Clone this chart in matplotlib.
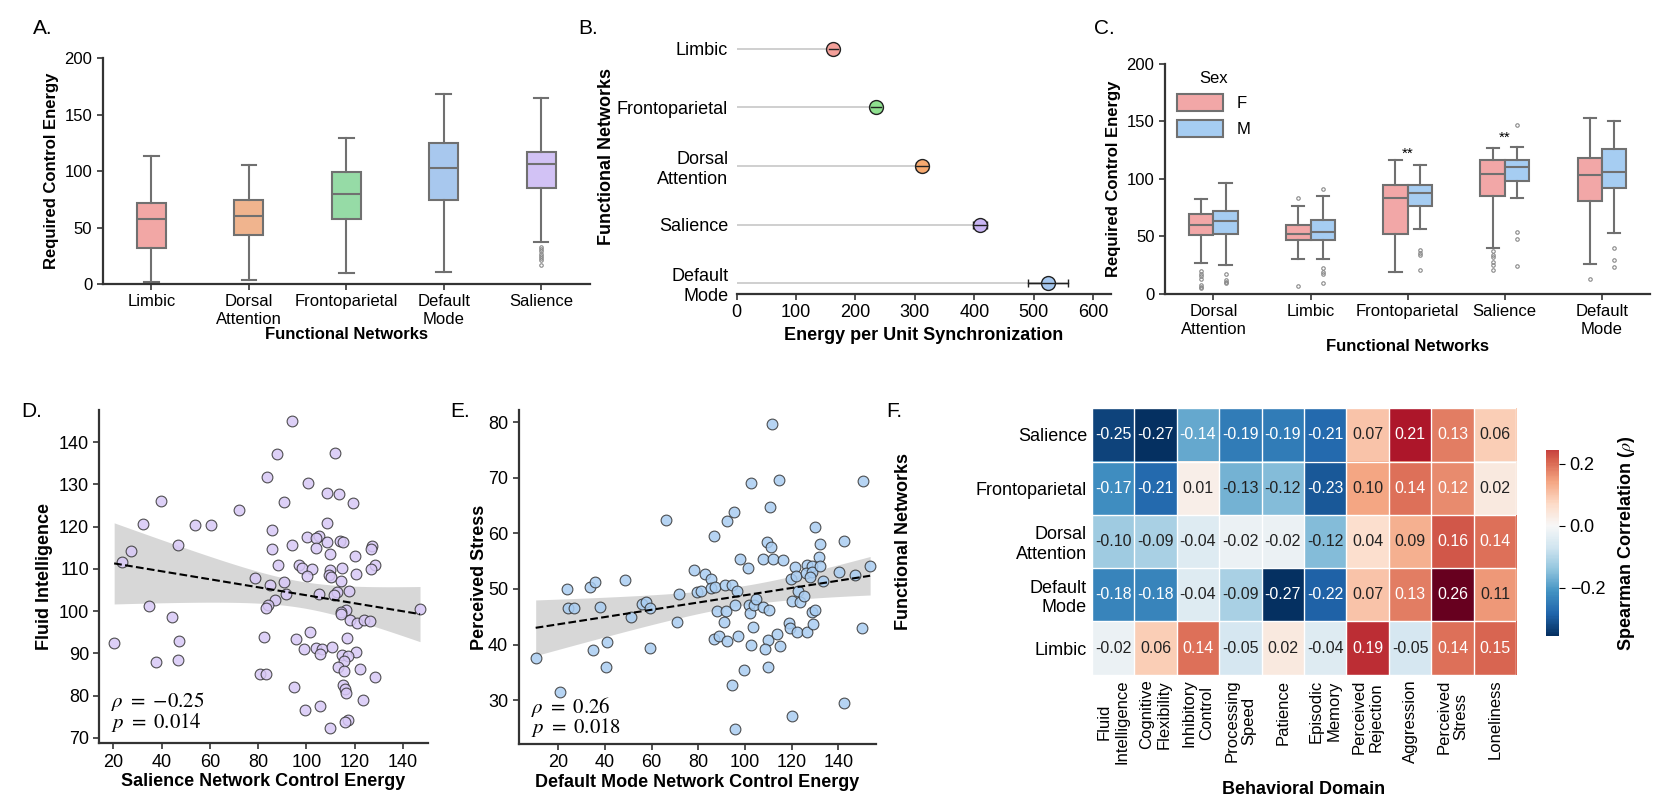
import numpy as np
import matplotlib
matplotlib.use("Agg")
import matplotlib.pyplot as plt
from matplotlib import font_manager
from matplotlib.colors import Normalize, ListedColormap
from matplotlib.patches import Patch
import matplotlib.cm as cm

# ---- data ----
# A: control energy per network (box stats)
a_networks = ['Limbic', 'Dorsal\nAttention', 'Frontoparietal', 'Default\nMode', 'Salience']
a_whislo = [2, 4, 10, 11, 37]
a_q1 = [32, 43, 58, 74, 85]
a_med = [58, 60, 80, 103, 106]
a_q3 = [72, 74, 99, 125, 117]
a_whishi = [113, 105, 129, 168, 165]
a_fliers = [[], [], [], [], [33, 31, 29, 27, 25, 23, 21, 17]]
a_colors = ['#f2a7a5', '#f0b48e', '#96dba6', '#a8c8ee', '#d2c2f5']

# B: energy per unit synchronization
b_networks = ['Limbic', 'Frontoparietal', 'Dorsal\nAttention', 'Salience', 'Default\nMode']
b_mean = [163, 235, 312, 410, 524]
b_err = [8, 8, 10, 12, 34]
b_colors = ['#f4a09a', '#8fe08f', '#f7aa70', '#c9b5f4', '#a6c8f0']

# C: control energy by sex
c_networks = ['Dorsal\nAttention', 'Limbic', 'Frontoparietal', 'Salience', 'Default\nMode']
f_whislo = [27, 30, 19, 40, 26]
f_q1 = [51, 47, 52, 85, 81]
f_med = [60, 52, 83, 104, 103]
f_q3 = [69, 60, 95, 116, 118]
f_whishi = [82, 76, 116, 127, 153]
f_fliers = [[20, 17, 15, 13, 8, 6, 5], [83, 7], [], [37, 34, 32, 28, 25, 21], [13]]
m_whislo = [25, 30, 56, 83, 53]
m_q1 = [52, 47, 76, 98, 92]
m_med = [63, 54, 88, 110, 106]
m_q3 = [72, 64, 95, 116, 126]
m_whishi = [96, 85, 112, 128, 150]
m_fliers = [[17, 12, 10, 9], [91, 22, 19, 17, 9], [38, 35, 34, 21], [147, 54, 48, 24], [40, 29, 23]]
c_sig = [('**', 2, 122), ('**', 3, 136)]

# D: salience energy vs fluid intelligence
d_x = [93.9, 87.6, 111.9, 83.6, 100.6, 108.4, 113.4, 39.9, 90.5, 119.2, 72.0, 32.4, 53.9,
       60.4, 108.3, 20.4, 85.7, 100.3, 105.2, 104.1, 93.9, 46.8, 27.3, 85.9, 108.6, 104.1,
       113.7, 115.2, 109.8, 120.1, 127.3, 126.8, 23.6, 88.4, 97.1, 98.1, 102.2, 114.9, 109.7,
       128.4, 126.8, 120.4, 100.1, 109.4, 110.1, 78.8, 90.8, 114.1, 84.8, 117.7, 91.7, 105.2,
       112.8, 111.3, 86.8, 83.9, 83.2, 34.9, 44.3, 116.3, 114.5, 114.2, 147.0, 118.2, 120.8,
       123.9, 126.1, 47.3, 82.6, 95.6, 101.4, 116.6, 98.8, 104.1, 106.6, 105.8, 110.6, 120.4,
       114.9, 117.2, 115.7, 37.7, 46.9, 113.2, 115.6, 122.3, 128.3, 80.6, 83.4, 94.9, 115.2,
       116.0, 116.3, 123.4, 99.2, 105.5, 117.1, 116.1, 109.7]
d_y = [145.0, 137.2, 137.4, 131.8, 130.3, 128.0, 127.7, 126.0, 125.7, 125.6, 123.9, 120.5, 120.3,
       120.4, 120.8, 92.5, 119.1, 117.6, 117.8, 117.2, 115.7, 115.6, 114.2, 114.6, 116.3, 114.9,
       116.6, 116.4, 113.6, 113.0, 115.4, 114.7, 111.5, 110.9, 110.8, 110.2, 110.0, 110.3, 109.6,
       110.9, 110.0, 108.8, 108.2, 108.5, 108.1, 107.9, 106.9, 107.1, 106.1, 104.7, 104.0, 104.1,
       104.4, 103.7, 102.5, 101.5, 100.6, 101.2, 98.7, 100.3, 99.7, 99.2, 100.5, 97.8, 97.2,
       97.9, 97.7, 92.8, 93.9, 93.3, 95.1, 93.7, 90.9, 91.3, 90.9, 89.9, 91.5, 90.4,
       89.5, 89.4, 88.2, 88.0, 88.5, 86.7, 85.8, 86.3, 84.5, 85.0, 85.1, 82.1, 82.6,
       81.5, 80.6, 79.0, 76.5, 77.5, 74.3, 73.7, 72.3]

# E: default mode energy vs perceived stress
e_x = [10.3, 20.7, 23.7, 24.1, 26.9, 33.7, 35.6, 34.9, 37.9, 40.9, 40.6, 48.7, 51.1, 55.7,
       57.7, 59.4, 59.1, 66.0, 71.0, 71.9, 78.1, 79.6, 81.3, 82.9, 85.4, 85.4, 87.3, 86.6,
       86.9, 88.9, 88.1, 91.6, 91.7, 91.0, 92.3, 92.3, 95.4, 94.6, 96.6, 95.9, 96.9, 94.3,
       95.6, 99.7, 97.9, 101.1, 102.6, 101.9, 102.1, 103.7, 104.6, 103.6, 102.6, 107.6, 107.6,
       109.3, 111.0, 111.9, 110.7, 111.4, 114.4, 110.3, 109.7, 108.7, 109.7, 113.7, 115.1,
       116.1, 121.3, 119.6, 122.0, 120.1, 122.9, 123.4, 125.3, 118.7, 119.4, 122.4, 126.7,
       120.1, 126.6, 128.7, 126.0, 128.7, 127.9, 131.6, 132.1, 130.1, 132.0, 133.3, 128.9,
       129.9, 129.3, 140.3, 142.4, 142.4, 147.0, 150.0, 150.7, 153.6]
e_y = [37.6, 31.4, 50.0, 46.5, 46.5, 50.4, 51.3, 39.0, 46.7, 40.4, 36.0, 51.7, 45.0, 47.3,
       47.6, 46.5, 39.3, 62.4, 44.0, 49.1, 53.4, 49.4, 49.6, 52.7, 51.8, 50.1, 50.4, 59.6,
       41.0, 41.5, 46.0, 50.8, 46.0, 44.1, 40.6, 62.2, 63.8, 50.7, 49.7, 47.1, 41.5, 32.7,
       24.8, 35.4, 55.3, 53.8, 69.0, 47.2, 45.6, 47.2, 48.2, 43.1, 40.0, 55.4, 46.7,
       58.5, 57.5, 55.4, 64.8, 79.7, 69.6, 46.3, 40.9, 39.2, 36.0, 41.9, 39.8,
       55.2, 54.0, 51.8, 52.4, 47.9, 49.7, 47.6, 48.7, 43.8, 43.0, 42.2, 42.3,
       27.1, 54.3, 54.2, 52.8, 53.1, 52.1, 55.7, 54.2, 61.2, 58.1, 51.5, 45.9,
       46.3, 43.7, 53.0, 58.7, 29.4, 52.5, 43.0, 69.4, 54.2]

# F: spearman correlations
f_rows = ['Salience', 'Frontoparietal', 'Dorsal\nAttention', 'Default\nMode', 'Limbic']
f_cols = ['Fluid\nIntelligence', 'Cognitive\nFlexibility', 'Inhibitory\nControl', 'Processing\nSpeed',
          'Patience', 'Episodic\nMemory', 'Perceived\nRejection', 'Aggression', 'Perceived\nStress',
          'Loneliness']
rho = np.array([
    [-0.25, -0.27, -0.14, -0.19, -0.19, -0.21, 0.07, 0.21, 0.13, 0.06],
    [-0.17, -0.21, 0.01, -0.13, -0.12, -0.23, 0.10, 0.14, 0.12, 0.02],
    [-0.10, -0.09, -0.04, -0.02, -0.02, -0.12, 0.04, 0.09, 0.16, 0.14],
    [-0.18, -0.18, -0.04, -0.09, -0.27, -0.22, 0.07, 0.13, 0.26, 0.11],
    [-0.02, 0.06, 0.14, -0.05, 0.02, -0.04, 0.19, -0.05, 0.14, 0.15],
])

# ---- style ----
names = {f.name for f in font_manager.fontManager.ttflist}
plt.rcParams['font.family'] = ['Liberation Sans', 'DejaVu Sans']
plt.rcParams['mathtext.fontset'] = 'stix'
plt.rcParams['axes.linewidth'] = 1.6
narrow = 'Liberation Sans Narrow' if 'Liberation Sans Narrow' in names else 'Liberation Sans'
EDGE = '#707070'


def clean(ax):
    ax.spines['top'].set_visible(False)
    ax.spines['right'].set_visible(False)
    ax.spines['left'].set_color('#333333')
    ax.spines['bottom'].set_color('#333333')
    ax.tick_params(labelsize=12, width=1.2, length=4, color='#333333')


def stats(lo, q1, med, q3, hi, fl):
    return [dict(whislo=a, q1=b, med=c, q3=d, whishi=e, fliers=f)
            for a, b, c, d, e, f in zip(lo, q1, med, q3, hi, fl)]


def draw_boxes(ax, st, pos, width, colors):
    bp = ax.bxp(st, positions=pos, widths=width, patch_artist=True, showfliers=True,
                boxprops=dict(edgecolor=EDGE, linewidth=1.5),
                medianprops=dict(color=EDGE, linewidth=1.5),
                whiskerprops=dict(color=EDGE, linewidth=1.5),
                capprops=dict(color=EDGE, linewidth=1.5),
                flierprops=dict(marker='o', markersize=2.5, markerfacecolor='none',
                                markeredgecolor='#888888', markeredgewidth=0.8))
    for patch, c in zip(bp['boxes'], colors):
        patch.set_facecolor(c)
    for cap in bp['caps']:
        xd = cap.get_xdata()
        mid = (xd[0] + xd[1]) / 2
        cap.set_xdata([mid - width * 0.25, mid + width * 0.25])


fig = plt.figure(figsize=(16.57, 8.07), dpi=100)

# ---- A ----
axA = fig.add_axes([0.062, 0.648, 0.294, 0.280])
draw_boxes(axA, stats(a_whislo, a_q1, a_med, a_q3, a_whishi, a_fliers),
           list(range(5)), 0.3, a_colors)
axA.set_xlim(-0.5, 4.5)
axA.set_ylim(0, 200)
axA.set_yticks([0, 50, 100, 150, 200])
axA.set_xticks(range(5))
axA.set_xticklabels(a_networks)
clean(axA)
axA.set_ylabel('Required Control Energy', fontsize=12, fontweight='bold')
axA.set_xlabel('Functional Networks', fontsize=12, fontweight='bold', labelpad=0)

# ---- B ----
axB = fig.add_axes([0.4445, 0.636, 0.226, 0.340])
yb = np.arange(len(b_networks))
axB.hlines(yb, 0, b_mean, color='#cccccc', linewidth=1.3, zorder=1)
for i in range(len(yb)):
    axB.errorbar(b_mean[i], yb[i], xerr=b_err[i], fmt='o', markersize=10,
                 markerfacecolor=b_colors[i], markeredgecolor='#222222', markeredgewidth=1.0,
                 ecolor='#222222', elinewidth=1.0, capsize=3, zorder=3)
    axB.plot([b_mean[i] - b_err[i], b_mean[i] + b_err[i]], [yb[i], yb[i]],
             color='#222222', linewidth=1.0, zorder=4)
axB.set_ylim(4.18, -0.5)
axB.set_xlim(0, 630)
axB.set_xticks([0, 100, 200, 300, 400, 500, 600])
axB.set_yticks(yb)
axB.set_yticklabels(b_networks, fontsize=13)
clean(axB)
axB.tick_params(axis='x', labelsize=13)
axB.tick_params(axis='y', length=0, labelsize=13, pad=6)
axB.spines['left'].set_visible(False)
axB.set_xlabel('Energy per Unit Synchronization', fontsize=13, fontweight='bold')
axB.set_ylabel('Functional Networks', fontsize=13, fontweight='bold', labelpad=1.5)

# ---- C ----
axC = fig.add_axes([0.703, 0.636, 0.293, 0.285])
pos = np.arange(5)
draw_boxes(axC, stats(f_whislo, f_q1, f_med, f_q3, f_whishi, f_fliers),
           list(pos - 0.125), 0.25, ['#f2a7a7'] * 5)
draw_boxes(axC, stats(m_whislo, m_q1, m_med, m_q3, m_whishi, m_fliers),
           list(pos + 0.125), 0.25, ['#a6cdf2'] * 5)
for txt, xi, yv in c_sig:
    axC.text(xi, yv, txt, ha='center', va='center', fontsize=11)
axC.set_xlim(-0.5, 4.5)
axC.set_ylim(0, 200)
axC.set_yticks([0, 50, 100, 150, 200])
axC.set_xticks(pos)
axC.set_xticklabels(c_networks)
clean(axC)
axC.set_ylabel('Required Control Energy', fontsize=12, fontweight='bold')
axC.set_xlabel('Functional Networks', fontsize=12, fontweight='bold', labelpad=2)
handles = [Patch(facecolor='#f2a7a7', edgecolor=EDGE, linewidth=1.5, label='F'),
           Patch(facecolor='#a6cdf2', edgecolor=EDGE, linewidth=1.5, label='M')]
axC.legend(handles=handles, title='Sex', loc='upper left', bbox_to_anchor=(0.0, 1.02),
           frameon=False, fontsize=12, title_fontsize=12, handlelength=2.8, handleheight=1.2,
           labelspacing=0.5, borderaxespad=0.3)


# ---- D / E scatter with regression ----
def scatter_reg(ax, x, y, color, r_txt, p_txt, ry, py):
    x = np.asarray(x)
    y = np.asarray(y)
    ax.scatter(x, y, s=60, color=color, edgecolor='#333333', linewidth=0.8, alpha=0.85, zorder=3)
    n = len(x)
    slope, inter = np.polyfit(x, y, 1)
    xs = np.linspace(x.min(), x.max(), 100)
    fit = inter + slope * xs
    resid = y - (inter + slope * x)
    s = np.sqrt(np.sum(resid ** 2) / (n - 2))
    se = s * np.sqrt(1 / n + (xs - x.mean()) ** 2 / np.sum((x - x.mean()) ** 2))
    ax.fill_between(xs, fit - 1.985 * se, fit + 1.985 * se, color='#bdbdbd', alpha=0.6,
                    linewidth=0, zorder=1)
    ax.plot(xs, fit, '--', color='black', linewidth=1.5, zorder=4)
    ax.text(0.036, ry, r_txt, transform=ax.transAxes, fontsize=15, va='center')
    ax.text(0.036, py, p_txt, transform=ax.transAxes, fontsize=15, va='center')
    clean(ax)
    ax.tick_params(labelsize=13)


axD = fig.add_axes([0.060, 0.079, 0.198, 0.413])
scatter_reg(axD, d_x, d_y, '#d8c8f6', r'$\rho\ =\ {-}0.25$', r'$p\ =\ 0.014$', 0.124, 0.061)
axD.set_xlim(14.3, 150.1)
axD.set_ylim(68.7, 147.6)
axD.set_xticks([20, 40, 60, 80, 100, 120, 140])
axD.set_yticks([70, 80, 90, 100, 110, 120, 130, 140])
axD.set_xlabel('Salience Network Control Energy', fontsize=13, fontweight='bold', labelpad=2)
axD.set_ylabel('Fluid Intelligence', fontsize=13, fontweight='bold')

axE = fig.add_axes([0.313, 0.078, 0.2155, 0.414])
scatter_reg(axE, e_x, e_y, '#a9cdf2', r'$\rho\ =\ 0.26$', r'$p\ =\ 0.018$', 0.112, 0.049)
axE.set_xlim(3, 156)
axE.set_ylim(22.1, 82.2)
axE.set_xticks([20, 40, 60, 80, 100, 120, 140])
axE.set_yticks([30, 40, 50, 60, 70, 80])
axE.set_xlabel('Default Mode Network Control Energy', fontsize=13, fontweight='bold', labelpad=2)
axE.set_ylabel('Perceived Stress', fontsize=13, fontweight='bold', labelpad=0)

# ---- F heatmap ----
axF = fig.add_axes([0.659, 0.164, 0.256, 0.330])
cmap = plt.get_cmap('RdBu_r')
norm = Normalize(vmin=rho.min(), vmax=rho.max())
axF.imshow(rho, cmap=cmap, norm=norm, aspect='auto', interpolation='nearest')
for i in range(rho.shape[0] + 1):
    axF.axhline(i - 0.5, color='white', linewidth=1)
for j in range(rho.shape[1] + 1):
    axF.axvline(j - 0.5, color='white', linewidth=1)
for i in range(rho.shape[0]):
    for j in range(rho.shape[1]):
        r, g, b, _ = cmap(norm(rho[i, j]))
        lum = 0.2126 * r ** 2.2 + 0.7152 * g ** 2.2 + 0.0722 * b ** 2.2
        axF.text(j, i, f'{rho[i, j]:.2f}', ha='center', va='center',
                 fontsize=11.5, family=narrow, color='#222222' if lum > 0.408 else 'white')
axF.set_xticks(range(rho.shape[1]))
axF.set_xticklabels(f_cols, rotation=90, fontsize=12)
axF.set_yticks(range(rho.shape[0]))
axF.set_yticklabels(f_rows, fontsize=13, family=narrow)
axF.tick_params(length=0)
for sp in axF.spines.values():
    sp.set_visible(False)
axF.set_xlabel('Behavioral Domain', fontsize=13, fontweight='bold', labelpad=12)
axF.set_ylabel('Functional Networks', fontsize=13, fontweight='bold')
axF.yaxis.set_label_coords(-0.425, 0.5)

# colorbar
cax = fig.add_axes([0.933, 0.212, 0.008, 0.230])
cb_cmap = ListedColormap(cmap(np.linspace(0.0, 0.84, 256)))
sm = cm.ScalarMappable(norm=Normalize(-0.356, 0.2435), cmap=cb_cmap)
cb = fig.colorbar(sm, cax=cax)
cb.outline.set_visible(False)
cb.set_ticks([-0.2, 0.0, 0.2])
cb.set_ticklabels(['\u22120.2', '0.0', '0.2'])
cb.ax.tick_params(labelsize=13, length=4)
cb.set_label(r'Spearman Correlation ($\rho$)', fontsize=13, fontweight='bold', labelpad=8)

# panel letters
for lbl, x, y in [('A.', 0.020, 0.965), ('B.', 0.349, 0.965), ('C.', 0.660, 0.965),
                  ('D.', 0.013, 0.49), ('E.', 0.272, 0.49), ('F.', 0.535, 0.49)]:
    fig.text(x, y, lbl, fontsize=15, ha='left', va='center')

fig.savefig('out.png', dpi=100)
